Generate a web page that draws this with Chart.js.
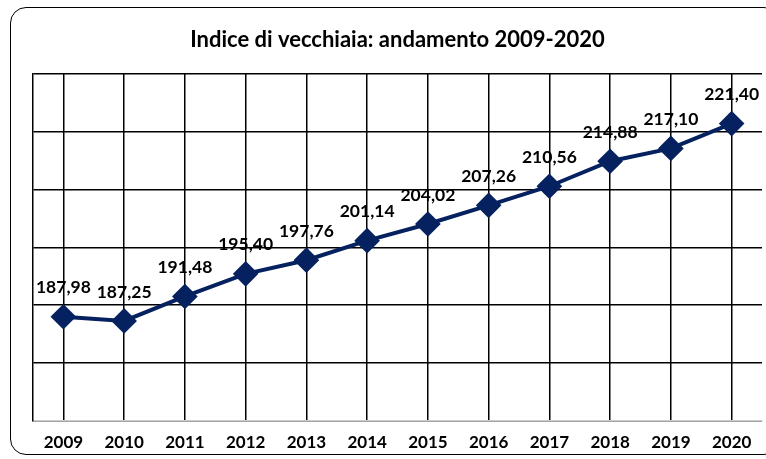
<!DOCTYPE html>
<html>
<head>
<meta charset="utf-8">
<script src="https://cdn.jsdelivr.net/npm/chart.js@4"></script>
<style>
  html, body { margin: 0; padding: 0; background: #fff; }
  #wrap { position: relative; width: 766px; height: 459px; overflow: hidden; }
  #frame { position: absolute; left: 10px; top: 7px; width: 770px; height: 448px;
           border: 1.5px solid #000; border-radius: 16px; box-sizing: border-box; }
  canvas { position: absolute; left: 0; top: 0; }
</style>
</head>
<body>
<div id="wrap">
  <div id="frame"></div>
  <canvas id="chart" width="766" height="459"></canvas>
</div>
<script>
// data
const years = ["2009","2010","2011","2012","2013","2014","2015","2016","2017","2018","2019","2020"]
const indice = [187.98, 187.25, 191.48, 195.40, 197.76, 201.14, 204.02, 207.26, 210.56, 214.88, 217.10, 221.40]
const titolo = "Indice di vecchiaia: andamento 2009-2020"

const fontFam = "Lato, 'Open Sans', sans-serif"
const navy = "#06215f"

// value labels above each point, comma decimals
const valueLabels = {
  id: "valueLabels",
  afterDatasetsDraw(chart) {
    const c = chart.ctx
    const meta = chart.getDatasetMeta(0)
    c.save()
    c.font = "bold 17.5px " + fontFam
    c.fillStyle = "#000"
    c.textAlign = "center"
    c.textBaseline = "middle"
    meta.data.forEach((pt, i) => {
      c.fillText(indice[i].toFixed(2).replace(".", ","), pt.x, pt.y - 29)
    })
    c.restore()
  }
}

ctx = document.getElementById("chart").getContext("2d")

var grafico = new Chart(ctx, {
  type: "line",
  data: {
    labels: years,
    datasets: [{
      data: indice,
      borderColor: navy,
      backgroundColor: navy,
      borderWidth: 4,
      pointStyle: "rectRot",
      pointRadius: 10,
      pointHoverRadius: 10,
      tension: 0
    }]
  },
  options: {
    responsive: false,
    animation: false,
    layout: { autoPadding: false, padding: { left: 33, right: 4, top: 0, bottom: -6 } },
    plugins: {
      legend: { display: false },
      tooltip: { enabled: false },
      title: {
        display: true,
        text: titolo,
        color: "#000",
        font: { family: fontFam, size: 22, weight: "bold" },
        padding: { top: 27, bottom: 20.5 }
      }
    },
    scales: {
      x: {
        offset: true,
        grid: { color: "#000", lineWidth: 1.5, drawTicks: false },
        border: { color: "#ccc", width: 1.5 },
        ticks: { color: "#000", padding: 12, maxRotation: 0, minRotation: 0,
                 font: { family: fontFam, size: 17, weight: "bold" } }
      },
      y: {
        min: 170,
        max: 230,
        grid: { color: "#000", lineWidth: 1.5, drawTicks: false },
        border: { color: "#000", width: 1.5 },
        ticks: { display: false, stepSize: 10 }
      }
    }
  },
  plugins: [valueLabels]
})
</script>
</body>
</html>
